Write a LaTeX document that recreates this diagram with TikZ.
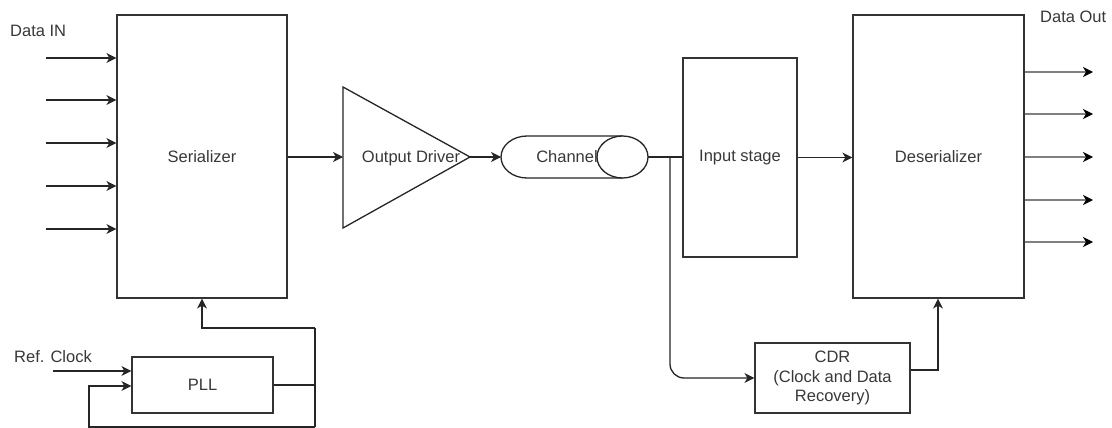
\documentclass[tikz,border=0pt]{standalone}
\usepackage{fontspec}
\setmainfont{Liberation Sans}
\usetikzlibrary{arrows.meta,calc}
\begin{document}
\begin{tikzpicture}[x=1pt,y=-1pt,
  every node/.style={font=\fontsize{16.5}{19.5}\selectfont, text=black!78},
  block/.style={draw=black!80, line width=1.2pt, fill=white, inner sep=0pt},
  wire/.style={draw=black!85, line width=1.3pt},
  arr/.style={wire, -{Stealth[length=10pt,width=10pt,inset=3pt]}},
  garr/.style={draw=black!50, line width=1.8pt, -{Stealth[length=10pt,width=10pt,inset=3pt,black]}},
  lbl/.style={inner sep=0pt}]
\useasboundingbox[fill=white] (0,0) rectangle (1112,428);

% main blocks
\node[block, minimum width=170pt, minimum height=283pt] (ser) at (202,156.5) {Serializer};
\node[block, minimum width=171pt, minimum height=283pt] (des) at (938.5,156.5) {Deserializer};
\node[block, minimum width=114pt, minimum height=199pt] (inp) at (740,157.5) {Input stage};
\node[block, minimum width=141pt, minimum height=56pt] (pll) at (202.5,385) {PLL};
\node[block, minimum width=155pt, minimum height=70pt, align=center] (cdr) at (832.5,378)
  {CDR\\(Clock and Data\\Recovery)};

% output driver (triangle)
\coordinate (drvin) at (343,157);
\coordinate (drvout) at (470,157);
\draw[wire, fill=white] (343,87) -- (drvout) -- (343,228) -- cycle;
\node[lbl] (drv) at (411,158) {Output Driver};

% channel (horizontal cylinder)
\coordinate (chanL) at (501,157);
\coordinate (chanR) at (648,157);
\draw[wire, fill=white] (622.5,136) -- (527,136)
  .. controls (512.6,136) and (501,145.4) .. (501,157)
  .. controls (501,168.6) and (512.6,178) .. (527,178) -- (622.5,178);
\node[lbl] (chan) at (567,157) {Channel};
\draw[wire, fill=white] (622.5,157) ellipse[x radius=25.5, y radius=21];

% labels
\node[lbl, anchor=west] (din) at (10,31) {Data IN};
\node[lbl, anchor=west] (dout) at (1040,17) {Data Out};
\node[lbl, anchor=west] (rclk) at (14,357) {Ref. Clock};

% parallel data in
\foreach \i/\y in {1/58,2/100,3/143,4/186,5/229} {
  \coordinate (in\i) at (46,\y);
  \draw[arr] (in\i) -- (in\i -| ser.west);
}
% parallel data out
\foreach \i/\y in {1/72,2/114,3/157,4/200,5/242} {
  \coordinate (out\i) at (1093,\y);
  \draw[garr] (out\i -| des.east) -- (out\i);
}

% serial path
\draw[arr] (ser.east |- drvin) -- (drvin);
\draw[arr] (drvout) -- (chanL);
\draw[wire] (chanR) -- (inp.west |- chanR);
\draw[arr] (inp.east) -- (des.west |- inp.east);

% clock recovery branch
\coordinate (tap) at (670,157);
\draw[arr, rounded corners=14pt] (tap) -- (tap |- cdr.west) -- (cdr.west);
\coordinate (cdrup) at (938,370);
\draw[arr] (cdr.east |- cdrup) -- (cdrup) -- (cdrup |- des.south);

% PLL and clock feedback
\coordinate (rin) at (53,371);
\draw[arr] (rin) -- (rin -| pll.west);
\coordinate (fbR) at (315,385);
\coordinate (fbB) at (315,427);
\coordinate (fbL) at (89,427);
\coordinate (fbT) at (315,328);
\draw[wire] (pll.east |- fbR) -- (fbR);
\draw[wire] (fbT) -- (fbB);
\draw[arr] (fbB) -- (fbL) -- (fbL |- 0,386) -- (pll.west |- 0,386);
\draw[arr] (fbT) -- (fbT -| ser.south) -- (ser.south);
\end{tikzpicture}
\end{document}
